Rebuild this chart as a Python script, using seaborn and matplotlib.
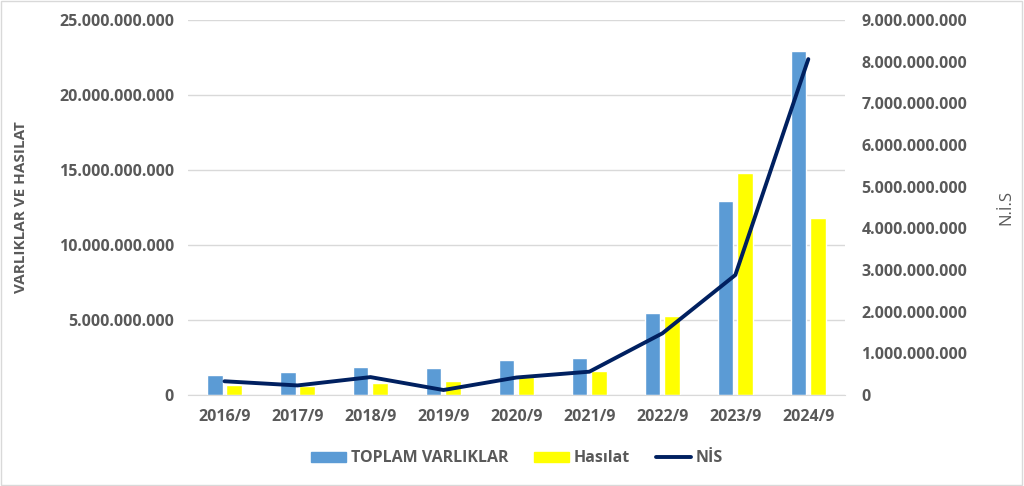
import numpy as np
import pandas as pd
import seaborn as sns
import matplotlib.pyplot as plt
from matplotlib.ticker import FuncFormatter, MultipleLocator
from matplotlib.patches import Patch
from matplotlib.lines import Line2D

years = ['2016/9', '2017/9', '2018/9', '2019/9', '2020/9', '2021/9', '2022/9', '2023/9', '2024/9']
toplam_varliklar = [1.31e9, 1.53e9, 1.87e9, 1.80e9, 2.35e9, 2.47e9, 5.45e9, 12.93e9, 22.90e9]
hasilat = [0.67e9, 0.62e9, 0.82e9, 0.93e9, 1.18e9, 1.60e9, 5.27e9, 14.78e9, 11.80e9]
nis = [0.33e9, 0.23e9, 0.43e9, 0.12e9, 0.42e9, 0.56e9, 1.48e9, 2.88e9, 8.06e9]

blue = '#5B9BD5'
yellow = '#FFFF00'
navy = '#002060'
gray = '#595959'

sns.set_style('white')
plt.rcParams['font.family'] = ['Open Sans', 'DejaVu Sans']
plt.rcParams['font.size'] = 11


def dotted(v, pos):
    return f"{int(round(v)):,}".replace(',', '.')


df = pd.DataFrame({
    'year': years * 2,
    'value': toplam_varliklar + hasilat,
    'series': ['TOPLAM VARLIKLAR'] * len(years) + ['Hasılat'] * len(years),
})

fig = plt.figure(figsize=(10.24, 4.86), dpi=100)
ax = fig.add_axes([0.1836, 0.1872, 0.6414, 0.7718])

sns.barplot(data=df, x='year', y='value', hue='series', palette=[blue, yellow],
            saturation=1, width=0.54, gap=0.2, ax=ax, legend=False)
ax.set_ylim(0, 25e9)
ax.yaxis.set_major_locator(MultipleLocator(5e9))
ax.yaxis.set_major_formatter(FuncFormatter(dotted))
ax.grid(axis='y', color='#D9D9D9', linewidth=1)
ax.set_axisbelow(True)
ax.set_xlabel('')
ax.set_ylabel('VARLIKLAR VE HASILAT', color=gray, fontweight='bold', fontsize=11, labelpad=22)
for s in ['top', 'left', 'right']:
    ax.spines[s].set_visible(False)
ax.spines['bottom'].set_color('#D9D9D9')
ax.tick_params(axis='both', length=0, colors=gray, labelsize=11.5, pad=10)
for t in ax.get_xticklabels() + ax.get_yticklabels():
    t.set_fontweight('bold')

ax2 = ax.twinx()
sns.lineplot(x=np.arange(len(years)), y=nis, color=navy, linewidth=2.8, ax=ax2)
ax2.set_ylim(0, 9e9)
ax2.yaxis.set_major_locator(MultipleLocator(1e9))
ax2.yaxis.set_major_formatter(FuncFormatter(dotted))
ax2.set_ylabel('N.İ.S', color=gray, fontsize=12, labelpad=22)
for s in ['top', 'left', 'right', 'bottom']:
    ax2.spines[s].set_visible(False)
ax2.tick_params(axis='y', length=0, colors=gray, labelsize=11.5, pad=12)
for t in ax2.get_yticklabels():
    t.set_fontweight('bold')
ax.set_xlim(-0.5, len(years) - 0.5)

handles = [Patch(color=blue, label='TOPLAM VARLIKLAR'),
           Patch(color=yellow, label='Hasılat'),
           Line2D([0], [0], color=navy, linewidth=2.8, label='NİS')]
leg = fig.legend(handles=handles, loc='center', bbox_to_anchor=(0.505, 0.057), ncol=3,
                 frameon=False, handlelength=2.2, handleheight=0.6, columnspacing=1.6,
                 handletextpad=0.3, fontsize=11.5)
for t in leg.get_texts():
    t.set_color(gray)
    t.set_fontweight('bold')

fig.patches.append(plt.Rectangle((0.001, 0.002), 0.997, 0.996, transform=fig.transFigure,
                                 fill=False, edgecolor='#D9D9D9', linewidth=1))

fig.savefig('out.png', dpi=100)
